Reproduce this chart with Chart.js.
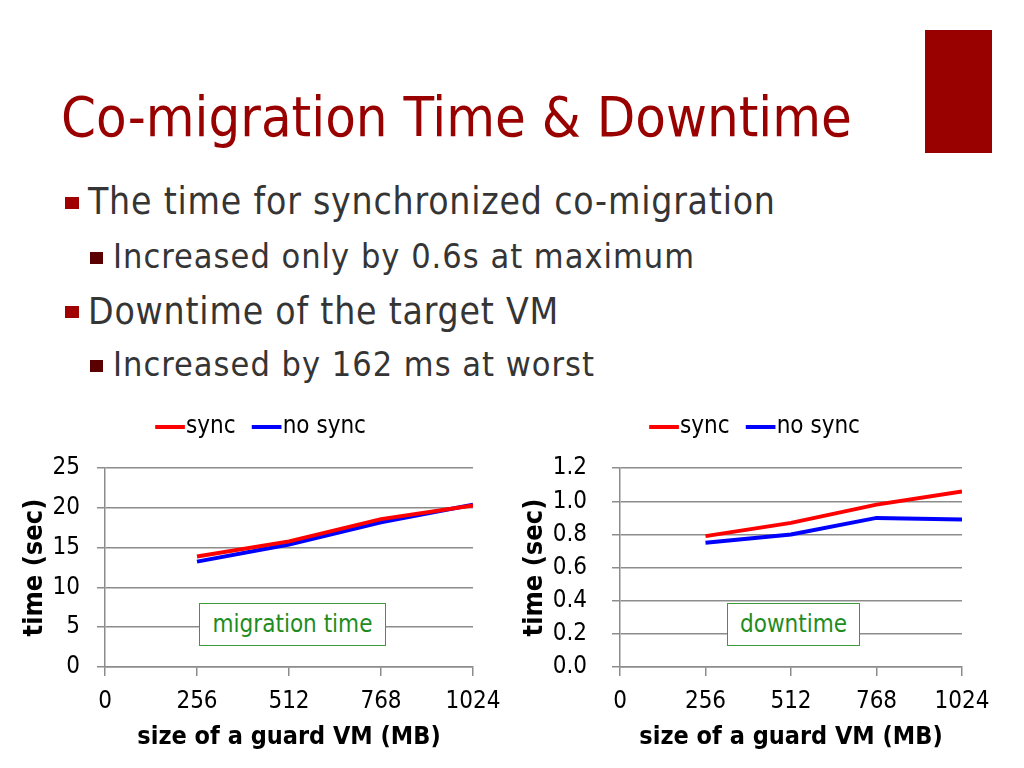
<!DOCTYPE html>
<html>
<head>
<meta charset="utf-8">
<script src="https://cdn.jsdelivr.net/npm/chart.js@4/dist/chart.umd.min.js"></script>
<style>
  html, body { margin: 0; padding: 0; background: #fff; }
  body { width: 1024px; height: 768px; position: relative; overflow: hidden;
         font-family: 'DejaVu Sans Condensed', 'DejaVu Sans', sans-serif; }
  .abs { position: absolute; white-space: nowrap; }
  #title { left: 61px; top: 82px; font-size: 55.7px; line-height: 70px; color: #990000; }
  #redbox { left: 925px; top: 30px; width: 67px; height: 123px; background: #990000; }
  .l1 { font-size: 37px; line-height: 44px; color: #353535; letter-spacing: 0.8px; }
  .l2 { font-size: 34px; line-height: 40px; color: #353535; letter-spacing: 1px; }
  .sq1 { width: 14px; height: 12px; background: #A00000; }
  .sq2 { width: 13px; height: 12px; background: #5A0000; }
  .note { font-size: 24px; line-height: 41px; color: #1E8C1E; border: 1px solid #3C9A3C;
          background: #fff; text-align: center; box-sizing: border-box; height: 43px; }
  canvas { position: absolute; }
</style>
</head>
<body>
<div id="title" class="abs">Co-migration Time &amp; Downtime</div>
<div id="redbox" class="abs"></div>

<div class="abs sq1" style="left:65px; top:197px;"></div>
<div class="abs l1" style="left:88px; top:180px;">The time for synchronized co-migration</div>
<div class="abs sq2" style="left:90px; top:252px;"></div>
<div class="abs l2" style="left:113px; top:236px;">Increased only by 0.6s at maximum</div>
<div class="abs sq1" style="left:65px; top:306px;"></div>
<div class="abs l1" style="left:88px; top:290px;">Downtime of the target VM</div>
<div class="abs sq2" style="left:90px; top:360px;"></div>
<div class="abs l2" style="left:113px; top:344px;">Increased by 162 ms at worst</div>

<div style="position:absolute; left:15px; top:388px; width:502px; height:372px;">
  <canvas id="c1" width="502" height="372" style="left:0; top:0;"></canvas>
</div>
<div style="position:absolute; left:509px; top:388px; width:502px; height:372px;">
  <canvas id="c2" width="502" height="372" style="left:0; top:0;"></canvas>
</div>

<div class="abs note" style="left:199px; top:603px; width:187px;">migration time</div>
<div class="abs note" style="left:727px; top:603px; width:133px;">downtime</div>

<script>
// ---- data ----
const guardSizes = [256, 512, 768, 1024];
const xTickValues = [0, 256, 512, 768, 1024];
const migrationSync = [13.9, 15.8, 18.6, 20.3];
const migrationNoSync = [13.25, 15.4, 18.2, 20.4];
const downtimeSync = [0.79, 0.87, 0.98, 1.06];
const downtimeNoSync = [0.75, 0.80, 0.90, 0.89];
const migrationYTicks = [0, 5, 10, 15, 20, 25];
const downtimeYTicks = [0, 0.2, 0.4, 0.6, 0.8, 1.0, 1.2];
const seriesNames = ['sync', 'no sync'];
const xTitle = 'size of a guard VM (MB)';
const yTitle = 'time (sec)';

const FONT = "'DejaVu Sans Condensed', 'DejaVu Sans', sans-serif";
const GRID = '#8c8c8c';

function pts(vals) { return guardSizes.map((x, i) => ({x: x, y: vals[i]})); }

function makeChart(id, syncVals, noSyncVals, yTicks, yFmt, geo) {
  const ds = (label, vals, color) => ({
    label: label, data: pts(vals), borderColor: color, backgroundColor: color,
    borderWidth: 4, pointRadius: 0, pointHoverRadius: 0, tension: 0,
    pointStyle: 'line'
  });
  return new Chart(document.getElementById(id), {
    type: 'line',
    data: { datasets: [ds(seriesNames[0], syncVals, '#FF0000'), ds(seriesNames[1], noSyncVals, '#0000FF')] },
    options: {
      responsive: false, animation: false, events: [],
      layout: { padding: 0 },
      plugins: {
        tooltip: { enabled: false },
        legend: {
          position: 'top', weight: 3000,
          labels: {
            usePointStyle: true, boxWidth: 8, boxHeight: 21, padding: 27,
            color: '#000', font: { family: FONT, size: 24 }
          }
        },
        title: { display: true, text: '', position: 'top', weight: 100,
                 font: { size: 1 }, padding: { top: 0, bottom: geo.spacer } }
      },
      scales: {
        x: {
          type: 'linear', min: 0, max: 1024,
          afterBuildTicks: (axis) => { axis.ticks = xTickValues.map(v => ({value: v})); },
          afterFit: (axis) => { axis.height = geo.xHeight; axis.paddingLeft = 0; axis.paddingRight = 0; },
          grid: { drawOnChartArea: false, drawTicks: true, tickLength: 9, color: GRID, lineWidth: 1.5 },
          border: { display: true, color: GRID, width: 1.5 },
          ticks: { color: '#000', padding: geo.xTickPad, font: { family: FONT, size: 24 },
                   maxRotation: 0, autoSkip: false, callback: (v) => String(v) },
          title: { display: true, text: xTitle, color: '#000',
                   font: { family: FONT, size: 25, weight: 'bold' }, padding: { top: 0, bottom: geo.xTitlePad } }
        },
        y: {
          min: yTicks[0], max: yTicks[yTicks.length - 1],
          afterBuildTicks: (axis) => { axis.ticks = yTicks.map(v => ({value: v})); },
          afterFit: (axis) => { axis.width = geo.yWidth; },
          grid: { drawOnChartArea: true, drawTicks: true, tickLength: 8, color: GRID, lineWidth: 1.5 },
          border: { display: true, color: GRID, width: 1.5 },
          ticks: { color: '#000', padding: geo.yTickPad, font: { family: FONT, size: 24 }, callback: yFmt },
          title: { display: true, text: yTitle, color: '#000',
                   font: { family: FONT, size: 27, weight: 'bold' }, padding: { top: geo.yTitlePad, bottom: 0 } }
        },
        rightSpace: {
          position: 'right', display: true,
          afterFit: (axis) => { axis.width = geo.rightSpace; },
          grid: { display: false, drawTicks: false },
          border: { display: false },
          ticks: { display: false },
          title: { display: false }
        }
      }
    }
  });
}

makeChart('c1', migrationSync, migrationNoSync, migrationYTicks, (v) => String(v),
  { spacer: 18, xHeight: 93, yWidth: 90, rightSpace: 44, xTickPad: 11, xTitlePad: 8, yTickPad: 17, yTitlePad: 3.8 });
makeChart('c2', downtimeSync, downtimeNoSync, downtimeYTicks, (v) => v.toFixed(1),
  { spacer: 18, xHeight: 93, yWidth: 111, rightSpace: 49, xTickPad: 11, xTitlePad: 8, yTickPad: 25, yTitlePad: 9.8 });
</script>
</body>
</html>
